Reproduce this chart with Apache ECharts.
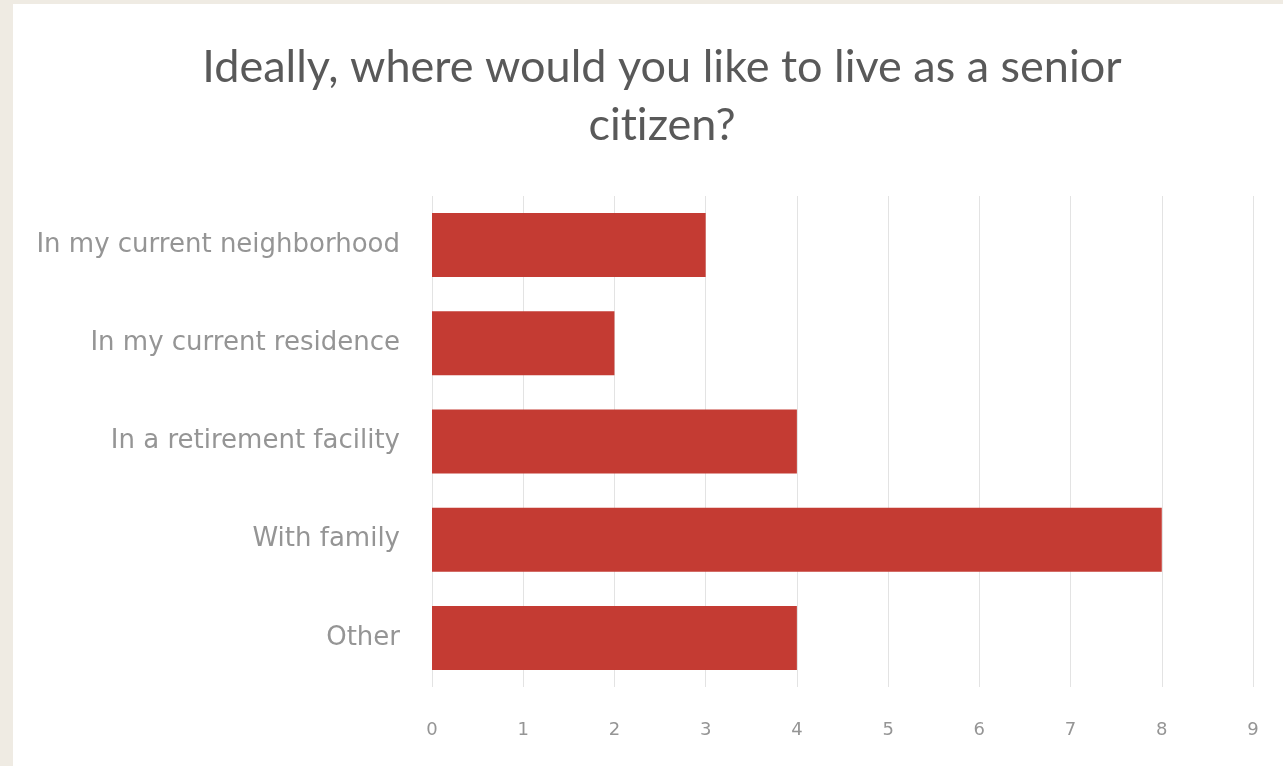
<!DOCTYPE html>
<html>
<head>
<meta charset="utf-8">
<script src="https://cdn.jsdelivr.net/npm/echarts@6/dist/echarts.min.js"></script>
<style>
  html, body { margin: 0; padding: 0; background: #efebe3; width: 1283px; height: 766px; overflow: hidden; }
  #chart { position: absolute; left: 13px; top: 4px; width: 1270px; height: 762px; background: #ffffff; }
</style>
</head>
<body>
<div id="chart"></div>
<script>
// Survey answers and their counts
const categories = [
  'In my current neighborhood',
  'In my current residence',
  'In a retirement facility',
  'With family',
  'Other'
];
const counts = [3, 2, 4, 8, 4];
const xTicks = [0, 1, 2, 3, 4, 5, 6, 7, 8, 9];

// the "t" of "citizen" sits in its own rich-text run so Lato draws
// a plain "t i" instead of its "ti" ligature
const titleText = 'Ideally, where would you like to live as a senior\nci{p|t}izen?';

const titleStyle = {
  fontFamily: 'Lato',
  fontSize: 45,
  fontWeight: 'normal',
  color: '#595959',
  lineHeight: 58
};

const chart = echarts.init(document.getElementById('chart'));
chart.setOption({
  animation: false,
  title: {
    text: titleText,
    left: 644,
    top: 29,
    textAlign: 'center',
    textStyle: Object.assign({}, titleStyle, { rich: { p: titleStyle } })
  },
  grid: { left: 419, right: 30, top: 192, bottom: 79, containLabel: false },
  xAxis: {
    type: 'value',
    min: xTicks[0],
    max: xTicks[xTicks.length - 1],
    interval: 1,
    axisLine: { show: false },
    axisTick: { show: false },
    axisLabel: {
      margin: 34,
      fontFamily: 'DejaVu Sans',
      fontSize: 18,
      color: '#959595'
    },
    splitLine: { show: true, lineStyle: { color: '#e3e3e3', width: 1 } }
  },
  yAxis: {
    type: 'category',
    data: categories,
    inverse: true,
    axisLine: { show: false },
    axisTick: { show: false },
    axisLabel: {
      margin: 32,
      fontFamily: 'DejaVu Sans',
      fontSize: 26,
      color: '#959595'
    }
  },
  series: [{
    type: 'bar',
    data: counts,
    barWidth: 64,
    itemStyle: { color: '#c43b33' }
  }]
});
</script>
</body>
</html>
